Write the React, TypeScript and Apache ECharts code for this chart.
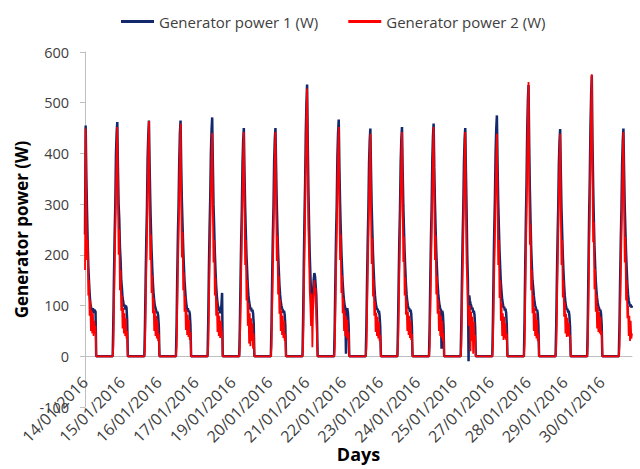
import React, { useEffect, useRef } from "react";
import * as echarts from "echarts";

// Readings are logged every 30 minutes from 06:00 to 17:30 each day.
// The first day's log starts at 09:00 and the last day's log stops at 16:00.
// Hours on the x axis are counted from 14/01/2016 09:00.
const RECORD_START_HOUR = 9;
const SLOT_START_HOUR = 6;
const SLOT_STEP_HOURS = 0.5;
const AXIS_MAX_HOURS = 415;
const LABEL_STEP_HOURS = 28;

const Y_MIN = -100;
const Y_MAX = 600;
const Y_STEP = 100;

const DAYS = [
  "14/01/2016", "15/01/2016", "16/01/2016", "17/01/2016", "18/01/2016", "19/01/2016",
  "20/01/2016", "21/01/2016", "22/01/2016", "23/01/2016", "24/01/2016", "25/01/2016",
  "26/01/2016", "27/01/2016", "28/01/2016", "29/01/2016", "30/01/2016", "31/01/2016",
];

const TICK_LABELS = [
  "14/01/2016", "15/01/2016", "16/01/2016", "17/01/2016", "19/01/2016",
  "20/01/2016", "21/01/2016", "22/01/2016", "23/01/2016", "24/01/2016",
  "25/01/2016", "27/01/2016", "28/01/2016", "29/01/2016", "30/01/2016",
];

const N = null;

// Generator power 1 (W), one row per day, 06:00 ... 17:30
const POWER_1: (number | null)[][] = [
  [N, N, N, N, N, N, 240, 455, 360, 290, 230, 180, 150, 125, 105, 98, 92, 88, 95, 85, 92, 90, 88, 0],
  [0, 70, 160, 240, 300, 400, 440, 462, 370, 300, 270, 215, 190, 150, 135, 115, 108, 98, 102, 92, 100, 96, 70, 0],
  [0, 60, 150, 230, 290, 390, 435, 465, 380, 310, 255, 210, 175, 145, 125, 110, 100, 95, 90, 85, 88, 80, 60, 0],
  [0, 65, 160, 240, 300, 385, 440, 465, 375, 305, 260, 215, 180, 150, 130, 112, 100, 92, 95, 88, 90, 84, 62, 0],
  [0, 70, 170, 250, 310, 400, 445, 471, 380, 300, 255, 205, 170, 140, 120, 105, 98, 90, 92, 85, 95, 100, 125, 0],
  [0, 60, 150, 230, 290, 380, 425, 450, 365, 295, 245, 200, 170, 140, 120, 108, 100, 92, 96, 88, 92, 85, 65, 0],
  [0, 62, 155, 235, 295, 385, 428, 450, 370, 300, 250, 205, 172, 142, 122, 108, 100, 94, 92, 86, 90, 82, 60, 0],
  [0, 75, 180, 270, 340, 440, 500, 536, 420, 330, 260, 200, 160, 124, 105, 91, 120, 150, 164, 158, 140, 120, 70, 0],
  [0, 65, 160, 240, 300, 395, 440, 467, 375, 305, 255, 210, 175, 145, 125, 110, 100, 95, 5, 90, 95, 85, 62, 0],
  [0, 60, 150, 228, 290, 380, 425, 449, 365, 295, 248, 202, 170, 140, 120, 106, 98, 92, 94, 86, 90, 80, 58, 0],
  [0, 62, 152, 232, 292, 382, 428, 452, 368, 298, 250, 205, 172, 142, 122, 108, 100, 94, 95, 88, 92, 84, 60, 0],
  [0, 64, 156, 236, 296, 388, 434, 459, 372, 302, 252, 208, 174, 144, 124, 110, 100, 94, 92, 15, 90, 84, 60, 0],
  [0, 62, 152, 232, 292, 382, 428, 450, 365, 290, 200, 150, -10, 120, 110, 104, 100, 92, 96, 86, 90, 82, 58, 0],
  [0, 70, 170, 250, 310, 400, 448, 475, 380, 305, 255, 208, 175, 145, 128, 112, 104, 96, 98, 90, 94, 86, 62, 0],
  [0, 75, 180, 270, 345, 445, 505, 535, 420, 330, 270, 215, 180, 150, 137, 120, 108, 100, 96, 90, 92, 84, 60, 0],
  [0, 60, 150, 228, 290, 378, 424, 448, 362, 292, 246, 200, 168, 140, 120, 106, 98, 92, 94, 86, 90, 80, 58, 0],
  [0, 78, 185, 280, 355, 455, 515, 554, 430, 340, 275, 220, 182, 150, 130, 115, 105, 98, 95, 90, 92, 84, 62, 0],
  [0, 62, 152, 230, 290, 380, 425, 449, 365, 295, 248, 205, 172, 142, 122, 110, 104, 98, 102, 96, 100],
];

// Generator power 2 (W), one row per day, 06:00 ... 17:30
const POWER_2: (number | null)[][] = [
  [N, N, N, N, N, N, 170, 449, 300, 190, 230, 120, 150, 80, 110, 50, 90, 45, 85, 40, 70, 45, 60, 0],
  [0, 20, 100, 180, 250, 330, 400, 452, 320, 200, 250, 130, 170, 90, 120, 55, 95, 45, 85, 40, 75, 35, 50, 0],
  [0, 15, 90, 170, 240, 320, 410, 464, 310, 190, 240, 125, 160, 85, 115, 50, 90, 40, 80, 35, 70, 30, 45, 0],
  [0, 20, 95, 175, 245, 330, 405, 459, 315, 195, 245, 130, 165, 88, 118, 52, 92, 42, 82, 38, 72, 32, 48, 0],
  [0, 20, 100, 175, 240, 320, 390, 440, 300, 185, 230, 120, 155, 80, 110, 48, 88, 40, 80, 36, 70, 55, 45, 0],
  [0, 18, 90, 165, 235, 315, 395, 442, 300, 180, 230, 110, 150, 60, 105, 25, 85, 20, 75, 30, 65, 15, 45, 0],
  [0, 20, 92, 170, 238, 320, 398, 442, 305, 188, 238, 122, 158, 84, 112, 50, 90, 42, 80, 36, 70, 30, 44, 0],
  [0, 25, 110, 200, 280, 380, 470, 528, 380, 250, 200, 130, 100, 60, 124, 18, 90, 110, 150, 120, 135, 80, 40, 0],
  [0, 20, 95, 175, 245, 330, 405, 452, 310, 190, 240, 125, 160, 85, 115, 50, 90, 40, 80, 36, 72, 32, 48, 0],
  [0, 18, 88, 165, 235, 315, 392, 439, 298, 182, 232, 118, 152, 80, 108, 48, 86, 40, 78, 35, 68, 30, 42, 0],
  [0, 20, 90, 168, 238, 318, 396, 442, 302, 186, 236, 120, 156, 82, 110, 50, 88, 42, 80, 36, 70, 32, 44, 0],
  [0, 20, 92, 170, 240, 322, 402, 452, 308, 190, 238, 122, 158, 84, 112, 50, 90, 40, 80, 36, 70, 30, 46, 0],
  [0, 20, 90, 168, 236, 318, 396, 442, 300, 184, 150, 100, 60, 80, 100, 10, 88, 30, 78, 5, 68, 30, 42, 0],
  [0, 20, 95, 170, 238, 318, 392, 439, 300, 180, 230, 115, 150, 70, 105, 40, 85, 32, 78, 35, 65, 32, 45, 0],
  [0, 25, 110, 200, 285, 385, 480, 541, 360, 220, 260, 130, 170, 85, 120, 50, 95, 40, 85, 35, 72, 30, 45, 0],
  [0, 18, 88, 165, 234, 314, 390, 439, 296, 180, 230, 116, 150, 78, 106, 45, 84, 38, 76, 40, 66, 38, 42, 0],
  [0, 25, 115, 210, 290, 395, 490, 556, 370, 225, 265, 132, 172, 88, 122, 55, 98, 48, 88, 45, 78, 42, 50, 0],
  [0, 20, 90, 168, 236, 316, 394, 442, 300, 185, 235, 110, 150, 75, 100, 40, 80, 30, 70, 35, 45],
];

const SERIES_NAMES = ["Generator power 1 (W)", "Generator power 2 (W)"];
const SERIES_COLORS = ["#13296b", "#ff0000"];

const FONT = "'Open Sans', 'Noto Sans', sans-serif";

// Plot area in pixels
const GRID = { left: 85, right: 8, top: 52, bottom: 62 };
const CHART_W = 640;
const CHART_H = 469;

// Turn the per-day rows into [hours since log start, watts] pairs.
function toPoints(rows: (number | null)[][]): [number, number][] {
  const pts: [number, number][] = [];
  rows.forEach((row, d) => {
    row.forEach((v, s) => {
      if (v === null) return;
      const t = d * 24 + SLOT_START_HOUR + s * SLOT_STEP_HOURS - RECORD_START_HOUR;
      pts.push([t, v]);
    });
  });
  return pts;
}

export default function App() {
  const ref = useRef<HTMLDivElement>(null);

  useEffect(() => {
    if (!ref.current) return;
    const chart = echarts.init(ref.current, null, { renderer: "svg" });

    const dateLabel = (v: number) => {
      const k = v / LABEL_STEP_HOURS;
      const r = Math.round(k);
      if (Math.abs(k - r) > 1e-6) return "";
      return TICK_LABELS[r] ?? "";
    };

    // The date axis sits on the zero line, above the bottom of the plot.
    const plotH = CHART_H - GRID.top - GRID.bottom;
    const zeroOffset = -((0 - Y_MIN) / (Y_MAX - Y_MIN)) * plotH;

    chart.setOption({
      animation: false,
      backgroundColor: "#ffffff",
      textStyle: { fontFamily: FONT },
      legend: {
        top: 9,
        left: 116,
        icon: "rect",
        itemWidth: 33,
        itemHeight: 3,
        itemGap: 30,
        textStyle: { fontFamily: FONT, fontSize: 15, color: "#404040" },
        data: SERIES_NAMES,
      },
      grid: { ...GRID, outerBoundsMode: "none", containLabel: false },
      xAxis: {
        type: "value",
        min: 0,
        max: AXIS_MAX_HOURS,
        interval: LABEL_STEP_HOURS,
        offset: zeroOffset,
        name: "Days",
        nameLocation: "middle",
        nameGap: 89,
        nameMoveOverlap: false,
        nameTextStyle: { fontFamily: FONT, fontSize: 18, fontWeight: "bold", color: "#000000" },
        axisLine: { show: true, onZero: false, lineStyle: { color: "#bfbfbf", width: 1 } },
        axisTick: { show: false },
        splitLine: { show: false },
        axisLabel: {
          rotate: 45,
          margin: 23,
          fontFamily: FONT,
          fontSize: 16,
          color: "#404040",
          showMaxLabel: false,
          formatter: dateLabel,
        },
      },
      yAxis: {
        type: "value",
        min: Y_MIN,
        max: Y_MAX,
        interval: Y_STEP,
        name: "Generator power (W)",
        nameLocation: "middle",
        nameGap: 55,
        nameMoveOverlap: false,
        nameTextStyle: { fontFamily: FONT, fontSize: 17, fontWeight: "bold", color: "#000000" },
        axisLine: { show: true, lineStyle: { color: "#bfbfbf", width: 1 } },
        axisTick: { show: true, length: 5, lineStyle: { color: "#bfbfbf" } },
        splitLine: { show: false },
        axisLabel: { fontFamily: FONT, fontSize: 14.5, color: "#404040", margin: 16 },
      },
      series: [POWER_1, POWER_2].map((rows, i) => ({
        name: SERIES_NAMES[i],
        type: "line",
        data: toPoints(rows),
        showSymbol: false,
        symbol: "none",
        lineStyle: { color: SERIES_COLORS[i], width: i === 0 ? 2.5 : 1.8 },
        itemStyle: { color: SERIES_COLORS[i] },
      })),
    });

    return () => chart.dispose();
  }, []);

  return (
    <div
      ref={ref}
      style={{ position: "fixed", left: 0, top: 0, width: CHART_W, height: CHART_H, background: "#fff" }}
    />
  );
}
